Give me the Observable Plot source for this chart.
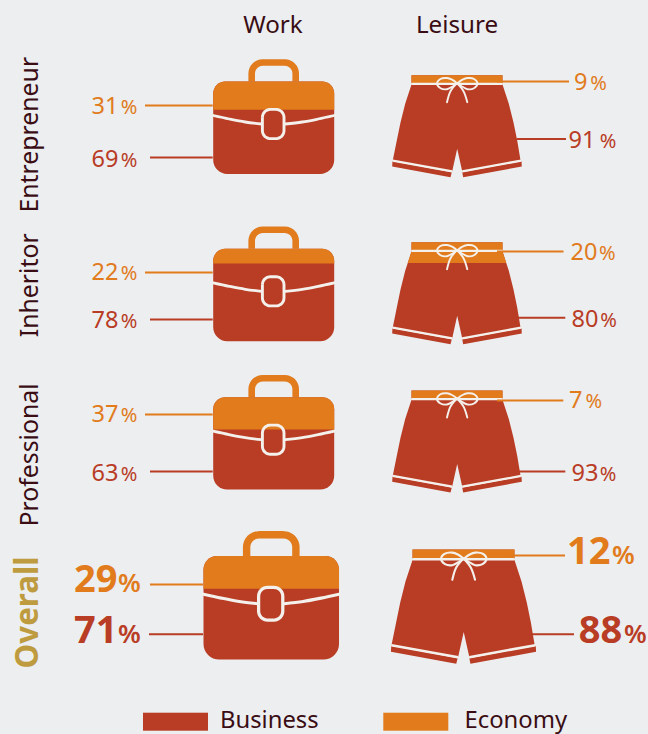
<!DOCTYPE html>
<html><head><meta charset="utf-8">
<script src="https://cdn.jsdelivr.net/npm/d3@7"></script>
<script src="https://cdn.jsdelivr.net/npm/@observablehq/plot@0.6"></script>
<style>html,body{margin:0;padding:0;background:#eceef0;overflow:hidden}svg{display:block}</style>
</head><body><div id="chart"></div>
<script>
// ---- Values ----
const segments = ["Entrepreneur", "Inheritor", "Professional", "Overall"];
const contexts = ["Work", "Leisure"];
const classes = ["Business", "Economy"];
const workEconomy = [31, 22, 37, 29];
const workBusiness = [69, 78, 63, 71];
const leisureEconomy = [9, 20, 7, 12];
const leisureBusiness = [91, 80, 93, 88];
// share of each icon actually painted orange in the picture (percent of icon height)
const workEconomyPainted = [30.5, 16, 35, 31.5];
const leisureEconomyPainted = [9, 20.5, 8, 8];

// ---- Colours and type ----
const BUSINESS = "#b93c25", ECONOMY = "#e17b1c", GOLD = "#bf9b40", INK = "#3a0d14", LINE = "#f4f1ec", BG = "#eceef0";
const FONT = "'Noto Sans', 'Open Sans', sans-serif";

// ---- Layout (plot units equal pixels) ----
const emphasis = [false, false, false, true];
const bagLeft = [212.7, 212.7, 212.7, 203], bagTop = [81, 248.3, 396.7, 555.6];
const shortsMid = [456.5, 456.5, 456.5, 463], shortsTop = [74.7, 241.7, 390, 549];
const iconScale = [1, 1, 1, 1.12];
const layoutWork = {
  econY: [105, 272, 414, 584], econFrom: [145, 145, 145, 150], econBase: [113.3, 279.5, 421.7, 591.7],
  busY: [157, 319, 471, 633.7], busFrom: [150, 150, 150, 149], busBase: [166.7, 327.7, 480, 642.7],
  numEnd: [118, 118, 118, 117], pctStart: [120.2, 120.2, 120.2, 117.5],
};
const layoutLeisure = {
  econY: [81, 251, 400, 555], econTo: [569, 563.5, 563.3, 565], econBase: [89, 259, 407.7, 563],
  busY: [138.5, 317.3, 471, 633.7], busTo: [566, 565.3, 565.3, 574], busBase: [147.7, 326.3, 480, 642.7],
  econNumEnd: [587, 597, 582, 610], econPct: [589.7, 598.5, 584.9, 611.5],
  busNumEnd: [595, 598, 598, 621.7], busPct: [599.2, 599.7, 599.2, 623.5],
};

// ---- Icon outlines, relative to an icon origin ----
const BAG_W = 121, BAG_H = 92.4;
function arc(cx, cy, r, a0, a1) {
  return d3.range(0, 9).map(i => { const a = (a0 + (a1 - a0) * i / 8) * Math.PI / 180; return [cx + r * Math.cos(a), cy + r * Math.sin(a)]; });
}
function roundRect(x0, y0, x1, y1, r, r2 = r) {
  return [...arc(x0 + r, y0 + r, r, 180, 270), ...arc(x1 - r, y0 + r, r, 270, 360),
          ...arc(x1 - r2, y1 - r2, r2, 0, 90), ...arc(x0 + r2, y1 - r2, r2, 90, 180)];
}
const bagBody = roundRect(0, 0, BAG_W, BAG_H, 12, 14);
const bagHandle = [[38.5, 0], [38.5, -8], ...arc(49.5, -8, 11, 180, 270), ...arc(71.5, -8, 11, 270, 360), [82.5, 0]];
const bagClasp = [...roundRect(49.2, 27.9, 70.8, 57.1, 8), [49.2, 35.9]];
const bagFlaps = [[[0, 34], [16, 37.5], [32, 40.5], [48.5, 42.5]], [[121, 34], [105, 37.5], [89, 40.5], [72, 42.5]]];

const SHORTS_H = 102;
const mirror = pts => pts.map(([x, y]) => [-x, y]).reverse();
const shortsSideR = [[45.5, 9.3], [51.8, 28.6], [56.5, 47.3], [60.2, 65.3], [63.5, 85]];
const shortsBand = [[-45.5, 0], [45.5, 0], [45.5, 8], [-45.5, 8]];
const shortsBody = [...shortsSideR, [5.2, 96], [0.2, 73.6], [-4.8, 96], [-64.2, 85], ...mirror(shortsSideR).slice(1)];
const shortsHemL = [[-64.5, 86], [-64.8, 91.3], [-6.5, 102], [-5.2, 97]];
const shortsHemR = [[64.5, 86], [64.8, 91.3], [6.2, 102], [5.2, 97]];
const shortsWhite = [[[-45.5, 8.7], [45.5, 8.7]], [[-64.3, 85.4], [-4.8, 96.2]], [[64.2, 85.4], [5.2, 96.2]]];
const bowL = [[0, 8], [-5, 4.5], [-10, 2.8], [-17, 4], [-20, 8.6], [-16.5, 13], [-10, 14], [-4, 11], [0, 8]];
const bowR = bowL.map(([x, y]) => [-x + 0.5, y]);
const tailL = [[0, 8], [-6.5, 16], [-10, 27]], tailR = [[0, 8], [6.5, 16], [10.3, 27]];

function clipAbove(poly, cut) {           // keep the part of a polygon with y <= cut
  const out = [];
  poly.forEach((p, i) => {
    const q = poly[(i + 1) % poly.length], pin = p[1] <= cut, qin = q[1] <= cut;
    if (pin) out.push(p);
    if (pin !== qin) { const t = (cut - p[1]) / (q[1] - p[1]); out.push([p[0] + t * (q[0] - p[0]), cut]); }
  });
  return out;
}

// ---- Tables for the marks ----
const fills = [], strokes = [], smooth = [], rules = [], labels = [];
let id = 0;
const addFill = (pts, map, color) => { id++; pts.forEach(([x, y]) => { const [a, b] = map(x, y); fills.push({ a, b, id, color }); }); };
const addStroke = (list, pts, map, color, sw) => { id++; pts.forEach(([x, y]) => { const [a, b] = map(x, y); list.push({ a, b, id, color, sw }); }); };

segments.forEach((seg, i) => {
  const s = iconScale[i];
  const bagMap = (x, y) => [bagLeft[i] + x * s, bagTop[i] + y * s];
  addStroke(strokes, bagHandle, bagMap, ECONOMY, 6.6 * s);
  addFill(bagBody, bagMap, BUSINESS);
  addFill(clipAbove(bagBody, BAG_H * workEconomyPainted[i] / 100), bagMap, ECONOMY);
  bagFlaps.forEach(f => addStroke(smooth, f, bagMap, LINE, 2.8 * s));
  addStroke(strokes, bagClasp, bagMap, LINE, 2.9 * s);

  const shMap = (x, y) => [shortsMid[i] + x * s, shortsTop[i] + y * s];
  const cut = SHORTS_H * leisureEconomyPainted[i] / 100;
  [shortsBand, shortsBody, shortsHemL, shortsHemR].forEach(part => {
    addFill(part, shMap, BUSINESS);
    const top = clipAbove(part, cut);
    if (top.length) addFill(top, shMap, ECONOMY);
  });
  shortsWhite.forEach(w => addStroke(strokes, w, shMap, LINE, 2.3 * s));
  [bowL, bowR, tailL, tailR].forEach(b => addStroke(smooth, b, shMap, LINE, 1.9 * s));

  const w = layoutWork, l = layoutLeisure, big = emphasis[i];
  rules.push({ x1: w.econFrom[i], x2: bagLeft[i], y: w.econY[i], color: ECONOMY });
  rules.push({ x1: w.busFrom[i], x2: bagLeft[i], y: w.busY[i], color: BUSINESS });
  rules.push({ x1: shortsMid[i] + 40.5 * s, x2: l.econTo[i], y: l.econY[i], color: ECONOMY });
  rules.push({ x1: shortsMid[i] + 60 * s, x2: l.busTo[i], y: l.busY[i], color: BUSINESS });
  const lab = (value, numEnd, pct, base, color) => labels.push({ value, numEnd, pct, base, color, big });
  lab(workEconomy[i], w.numEnd[i], w.pctStart[i], w.econBase[i], ECONOMY);
  lab(workBusiness[i], w.numEnd[i], w.pctStart[i], w.busBase[i], BUSINESS);
  lab(leisureEconomy[i], l.econNumEnd[i], l.econPct[i], l.econBase[i], ECONOMY);
  lab(leisureBusiness[i], l.busNumEnd[i], l.busPct[i], l.busBase[i], BUSINESS);
});

const segLabels = segments.map((name, i) => ({ name, base: [212, 336.7, 526, 668][i], color: emphasis[i] ? GOLD : INK, big: emphasis[i] }));
const heads = contexts.map((name, i) => ({ name, x: [272.5, 456.5][i] }));
const legend = classes.map((name, i) => ({ name, x1: [143, 383.3][i], x2: [208, 448.3][i], tx: [219.5, 464][i], color: [BUSINESS, ECONOMY][i] }));

const chart = Plot.plot({
  width: 648, height: 734, margin: 0,
  style: { background: BG, fontFamily: FONT },
  x: { domain: [0, 648], range: [0, 648], axis: null },
  y: { domain: [0, 734], range: [0, 734], axis: null },
  color: { type: "identity" },
  marks: [
    Plot.line(strokes.filter(d => d.color === ECONOMY), { x: "a", y: "b", z: "id", stroke: "color", strokeWidth: "sw", strokeLinecap: "butt", strokeLinejoin: "round" }),
    Plot.line(fills, { x: "a", y: "b", z: "id", fill: "color", stroke: null }),
    Plot.line(strokes.filter(d => d.color !== ECONOMY), { x: "a", y: "b", z: "id", stroke: "color", strokeWidth: "sw", strokeLinecap: "butt", strokeLinejoin: "round" }),
    Plot.line(smooth, { x: "a", y: "b", z: "id", stroke: "color", strokeWidth: "sw", curve: "catmull-rom" }),
    Plot.ruleY(rules, { x1: "x1", x2: "x2", y: "y", stroke: "color", strokeWidth: 2 }),
    // percentage labels
    Plot.text(labels.filter(d => !d.big), { x: "numEnd", y: "base", text: d => String(d.value), fill: "color", textAnchor: "end", lineAnchor: "bottom", fontSize: 23.5 }),
    Plot.text(labels.filter(d => !d.big), { x: "pct", y: "base", text: () => "%", fill: "color", textAnchor: "start", lineAnchor: "bottom", fontSize: 20 }),
    Plot.text(labels.filter(d => d.big), { x: "numEnd", y: "base", text: d => String(d.value), fill: "color", textAnchor: "end", lineAnchor: "bottom", fontSize: 38, fontWeight: 700 }),
    Plot.text(labels.filter(d => d.big), { x: "pct", y: "base", text: () => "%", fill: "color", textAnchor: "start", lineAnchor: "bottom", fontSize: 26, fontWeight: 600 }),
    // segment names
    Plot.text(segLabels.filter(d => !d.big), { x: () => 37.7, y: "base", text: "name", fill: "color", rotate: -90, textAnchor: "start", lineAnchor: "bottom", fontSize: 24.8 }),
    Plot.text(segLabels.filter(d => d.big), { x: () => 37.7, y: "base", text: "name", fill: "color", rotate: -90, textAnchor: "start", lineAnchor: "bottom", fontSize: 31.3, fontWeight: 700 }),
    // column heads
    Plot.text(heads, { x: "x", y: () => 32.5, text: "name", fill: INK, lineAnchor: "bottom", fontSize: 24.2 }),
    // legend
    Plot.rectY(legend, { x1: "x1", x2: "x2", y1: () => 712.7, y2: () => 730.7, fill: "color" }),
    Plot.text(legend, { x: "tx", y: () => 727, text: "name", fill: INK, textAnchor: "start", lineAnchor: "bottom", fontSize: 23.8 })
  ]
});
document.getElementById("chart").appendChild(chart);
</script></body></html>
